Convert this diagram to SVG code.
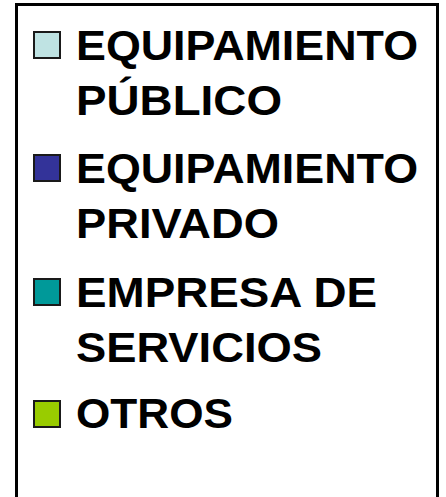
<svg xmlns="http://www.w3.org/2000/svg" width="446" height="497" viewBox="0 0 446 497">
<style>
.t{font-family:"Liberation Sans",Arial,sans-serif;font-weight:bold;font-size:42px;fill:#000}
.sw{stroke:#1a1a1a;stroke-width:2}
</style>
<rect x="0" y="0" width="446" height="497" fill="#fff"/>
<path d="M16.5,510 V4.5 H437.5 V510" fill="none" stroke="#000" stroke-width="3"/>
<g id="item1">
<rect class="sw" x="34" y="32" width="26" height="26" fill="#BFE3E3"/>
<text class="t" x="76" y="59.5" textLength="342" lengthAdjust="spacingAndGlyphs">EQUIPAMIENTO</text>
<text class="t" x="76" y="114.5" textLength="206" lengthAdjust="spacingAndGlyphs">PÚBLICO</text>
</g>
<g id="item2">
<rect class="sw" x="34" y="155" width="26" height="26" fill="#333399"/>
<text class="t" x="76" y="182.5" textLength="342" lengthAdjust="spacingAndGlyphs">EQUIPAMIENTO</text>
<text class="t" x="76" y="237.5" textLength="203" lengthAdjust="spacingAndGlyphs">PRIVADO</text>
</g>
<g id="item3">
<rect class="sw" x="34" y="279" width="26" height="26" fill="#009999"/>
<text class="t" x="76" y="306.5" textLength="301" lengthAdjust="spacingAndGlyphs">EMPRESA DE</text>
<text class="t" x="76" y="361.5" textLength="246" lengthAdjust="spacingAndGlyphs">SERVICIOS</text>
</g>
<g id="item4">
<rect class="sw" x="34" y="401" width="26" height="26" fill="#99CC00"/>
<text class="t" x="76" y="427.5" textLength="157" lengthAdjust="spacingAndGlyphs">OTROS</text>
</g>
</svg>
